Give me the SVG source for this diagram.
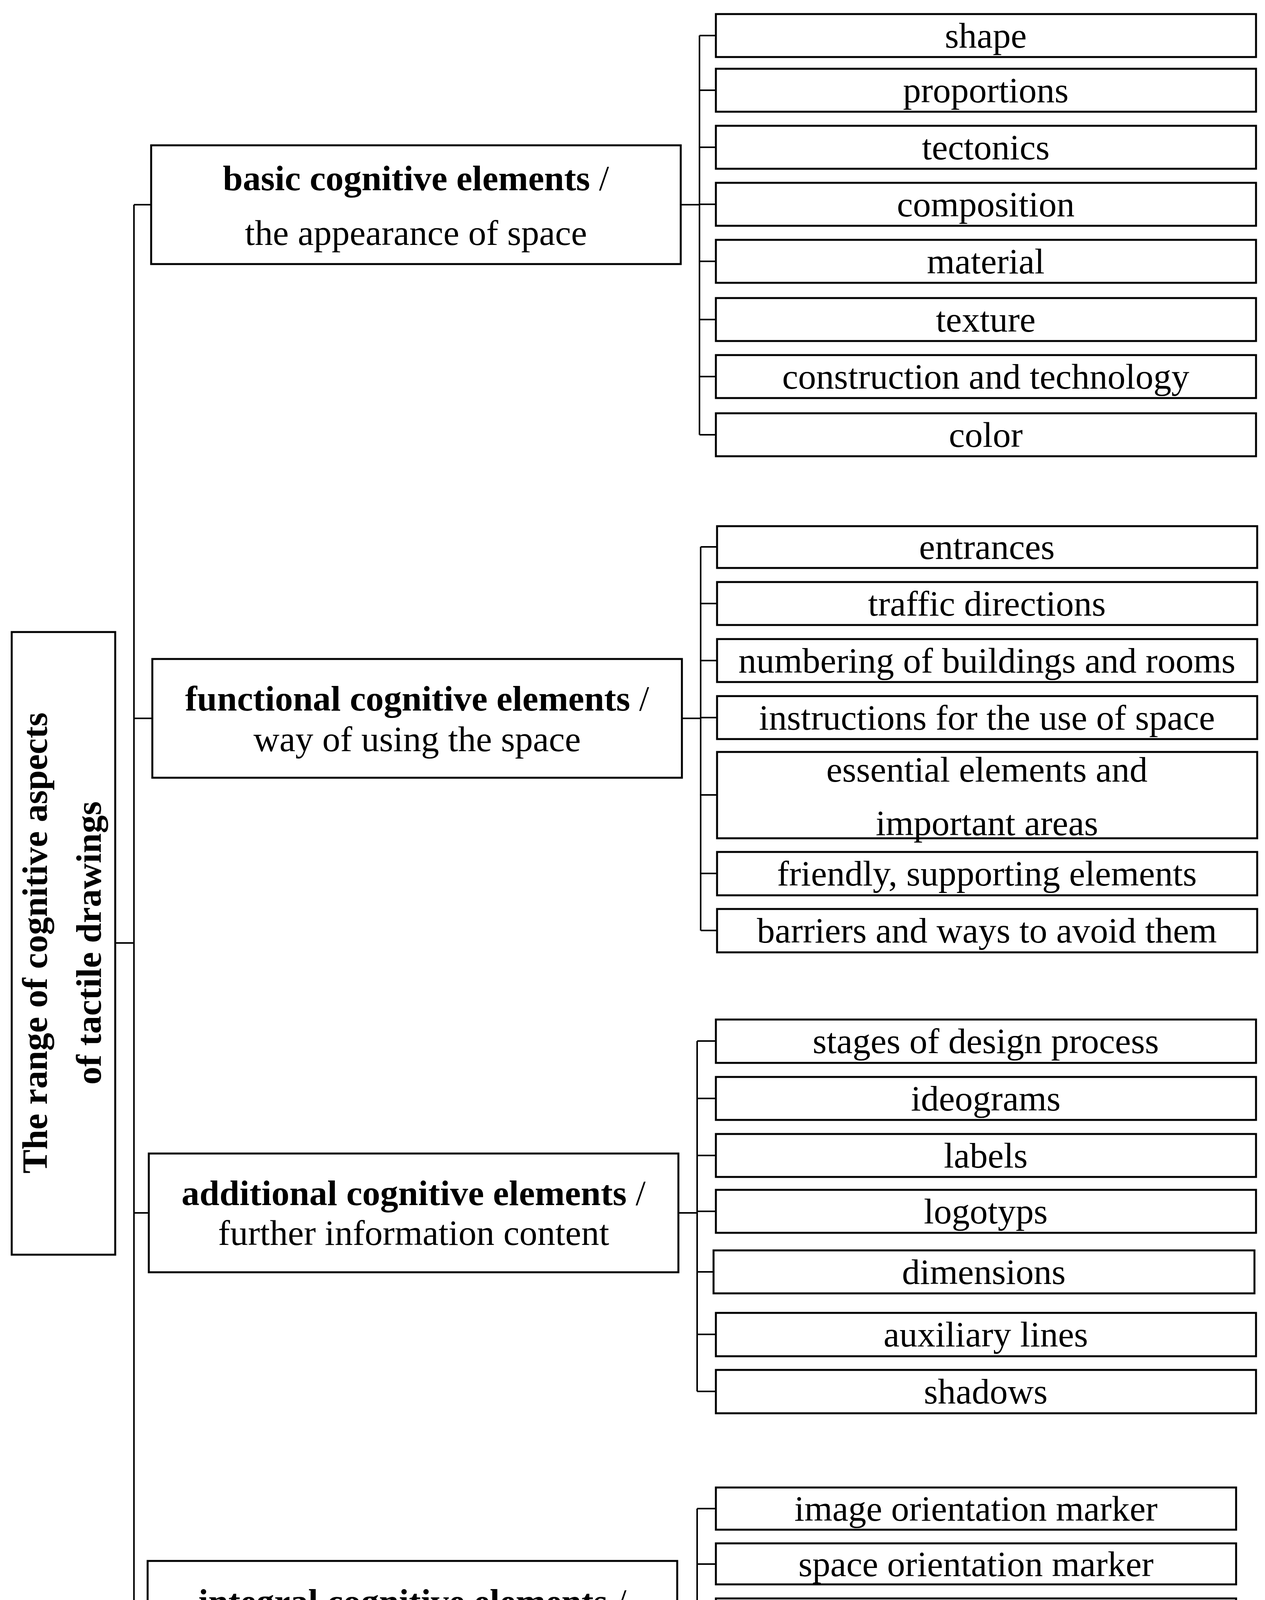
<svg xmlns="http://www.w3.org/2000/svg" width="3239" height="4671" viewBox="0 0 3239 4671">
<style>
rect{fill:#fff;stroke:#000;stroke-width:5}
.c line{stroke:#000;stroke-width:4}
text{font-family:"Liberation Serif","DejaVu Serif",serif;font-size:92px;text-anchor:middle;fill:#000}
.b{font-weight:bold}
</style>
<rect width="3239" height="4671" style="stroke:none"/>
<g class="c" id="connectors">
<line x1="295" y1="2414" x2="343" y2="2414"/>
<line x1="343" y1="524" x2="343" y2="4148"/>
<line x1="343" y1="524" x2="387" y2="524"/>
<line x1="343" y1="1839" x2="390" y2="1839"/>
<line x1="343" y1="3105" x2="381" y2="3105"/>
<line x1="343" y1="4148" x2="378" y2="4148"/>
<line x1="1743" y1="524" x2="1791" y2="524"/>
<line x1="1791" y1="91" x2="1791" y2="1113"/>
<line x1="1791" y1="91" x2="1833" y2="91"/><line x1="1791" y1="231" x2="1833" y2="231"/><line x1="1791" y1="377" x2="1833" y2="377"/><line x1="1791" y1="523" x2="1833" y2="523"/><line x1="1791" y1="669" x2="1833" y2="669"/><line x1="1791" y1="818" x2="1833" y2="818"/><line x1="1791" y1="964" x2="1833" y2="964"/><line x1="1791" y1="1113" x2="1833" y2="1113"/>
<line x1="1746" y1="1839" x2="1794" y2="1839"/>
<line x1="1794" y1="1400" x2="1794" y2="2382"/>
<line x1="1794" y1="1400" x2="1836" y2="1400"/><line x1="1794" y1="1545" x2="1836" y2="1545"/><line x1="1794" y1="1691" x2="1836" y2="1691"/><line x1="1794" y1="1837" x2="1836" y2="1837"/><line x1="1794" y1="2035" x2="1836" y2="2035"/><line x1="1794" y1="2236" x2="1836" y2="2236"/><line x1="1794" y1="2382" x2="1836" y2="2382"/>
<line x1="1737" y1="3105" x2="1785" y2="3105"/>
<line x1="1785" y1="2665" x2="1785" y2="3562"/>
<line x1="1785" y1="2665" x2="1833" y2="2665"/><line x1="1785" y1="2812" x2="1833" y2="2812"/><line x1="1785" y1="2958" x2="1833" y2="2958"/><line x1="1785" y1="3101" x2="1833" y2="3101"/><line x1="1785" y1="3256" x2="1827" y2="3256"/><line x1="1785" y1="3416" x2="1833" y2="3416"/><line x1="1785" y1="3562" x2="1833" y2="3562"/>
<line x1="1734" y1="4148" x2="1785" y2="4148"/>
<line x1="1785" y1="3862" x2="1785" y2="4590"/>
<line x1="1785" y1="3862" x2="1833" y2="3862"/><line x1="1785" y1="4004" x2="1833" y2="4004"/><line x1="1785" y1="4145" x2="1833" y2="4145"/><line x1="1785" y1="4288" x2="1833" y2="4288"/><line x1="1785" y1="4446" x2="1833" y2="4446"/><line x1="1785" y1="4590" x2="1833" y2="4590"/>
</g>
<g id="root"><rect x="30" y="1618" width="265" height="1594"/>
<text class="b" transform="translate(120,2414) rotate(-90)">The range of cognitive aspects</text>
<text class="b" transform="translate(258,2414) rotate(-90)">of tactile drawings</text></g>
<g id="basic"><rect x="387" y="372" width="1356" height="304"/><text x="1065" y="487"><tspan class="b">basic cognitive elements</tspan> /</text><text x="1065" y="627">the appearance of space</text></g>
<g id="functional"><rect x="390" y="1687" width="1356" height="304"/><text x="1068" y="1819"><tspan class="b">functional cognitive elements</tspan> /</text><text x="1068" y="1923">way of using the space</text></g>
<g id="additional"><rect x="381" y="2953" width="1356" height="304"/><text x="1059" y="3085"><tspan class="b">additional cognitive elements</tspan> /</text><text x="1059" y="3187">further information content</text></g>
<g id="integral"><rect x="378" y="3996" width="1356" height="304"/><text x="1056" y="4131"><tspan class="b">integral cognitive elements</tspan> /</text><text x="1056" y="4233">detailed explanatory information</text></g>
<g id="b1"><rect x="1833" y="36" width="1383" height="110"/><text x="2524" y="122">shape</text></g>
<g id="b2"><rect x="1833" y="176" width="1383" height="110"/><text x="2524" y="262">proportions</text></g>
<g id="b3"><rect x="1833" y="322" width="1383" height="110"/><text x="2524" y="408">tectonics</text></g>
<g id="b4"><rect x="1833" y="468" width="1383" height="110"/><text x="2524" y="554">composition</text></g>
<g id="b5"><rect x="1833" y="614" width="1383" height="110"/><text x="2524" y="700">material</text></g>
<g id="b6"><rect x="1833" y="763" width="1383" height="110"/><text x="2524" y="849">texture</text></g>
<g id="b7"><rect x="1833" y="909" width="1383" height="110"/><text x="2524" y="995">construction and technology</text></g>
<g id="b8"><rect x="1833" y="1058" width="1383" height="110"/><text x="2524" y="1144">color</text></g>
<g id="f1"><rect x="1836" y="1347" width="1383" height="107"/><text x="2527" y="1431">entrances</text></g>
<g id="f2"><rect x="1836" y="1490" width="1383" height="110"/><text x="2527" y="1576">traffic directions</text></g>
<g id="f3"><rect x="1836" y="1636" width="1383" height="110"/><text x="2527" y="1722">numbering of buildings and rooms</text></g>
<g id="f4"><rect x="1836" y="1782" width="1383" height="110"/><text x="2527" y="1868">instructions for the use of space</text></g>
<g id="f5"><rect x="1836" y="1925" width="1383" height="221"/><text x="2527" y="2001">essential elements and</text><text x="2527" y="2138">important areas</text></g>
<g id="f6"><rect x="1836" y="2181" width="1383" height="111"/><text x="2527" y="2267">friendly, supporting elements</text></g>
<g id="f7"><rect x="1836" y="2327" width="1383" height="111"/><text x="2527" y="2413">barriers and ways to avoid them</text></g>
<g id="a1"><rect x="1833" y="2610" width="1383" height="111"/><text x="2524" y="2696">stages of design process</text></g>
<g id="a2"><rect x="1833" y="2757" width="1383" height="110"/><text x="2524" y="2843">ideograms</text></g>
<g id="a3"><rect x="1833" y="2903" width="1383" height="110"/><text x="2524" y="2989">labels</text></g>
<g id="a4"><rect x="1833" y="3046" width="1383" height="110"/><text x="2524" y="3132">logotyps</text></g>
<g id="a5"><rect x="1827" y="3201" width="1385" height="110"/><text x="2519" y="3287">dimensions</text></g>
<g id="a6"><rect x="1833" y="3361" width="1383" height="111"/><text x="2524" y="3447">auxiliary lines</text></g>
<g id="a7"><rect x="1833" y="3507" width="1383" height="111"/><text x="2524" y="3593">shadows</text></g>
<g id="i1"><rect x="1833" y="3808" width="1332" height="108"/><text x="2499" y="3893">image orientation marker</text></g>
<g id="i2"><rect x="1833" y="3951" width="1332" height="105"/><text x="2499" y="4035">space orientation marker</text></g>
<g id="i3"><rect x="1833" y="4092" width="1332" height="107"/><text x="2499" y="4176">scale marker</text></g>
<g id="i4"><rect x="1833" y="4235" width="1332" height="107"/><text x="2499" y="4319">observer position marker</text></g>
<g id="i5"><rect x="1833" y="4393" width="1332" height="107"/><text x="2499" y="4477">symbols</text></g>
<g id="i6"><rect x="1833" y="4536" width="1332" height="107"/><text x="2499" y="4621">explanatory and descriptive text</text></g>
</svg>
